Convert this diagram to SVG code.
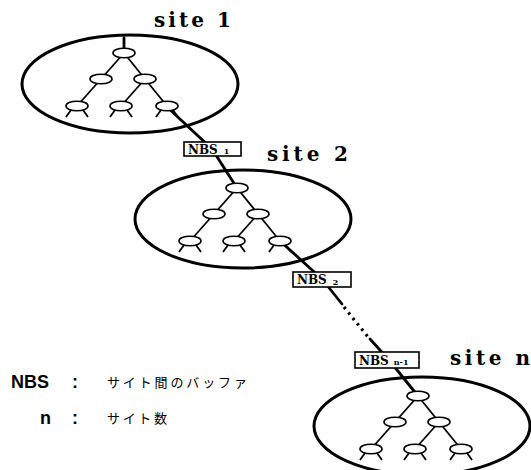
<svg xmlns="http://www.w3.org/2000/svg" xmlns:xlink="http://www.w3.org/1999/xlink" width="531" height="470" viewBox="0 0 531 470">
  <style>
    .site { fill: none; stroke: #000; stroke-width: 3; }
    .edge { stroke: #000; stroke-width: 1.8; fill: none; }
    .node { fill: #fff; stroke: #000; stroke-width: 1.6; }
    .link { stroke: #000; stroke-width: 2.8; fill: none; stroke-linecap: round; }
    .dots { stroke: #000; stroke-width: 3.2; fill: none; stroke-dasharray: 2.5 4.5; }
    .box { fill: #fff; stroke: #000; stroke-width: 1.6; }
    .boxtext { font-family: "DejaVu Serif", "Liberation Serif", serif; font-weight: bold; font-size: 12px; fill: #000; }
    .sub { font-size: 8px; }
    .title { font-family: "DejaVu Serif", "Liberation Serif", serif; font-weight: bold; font-size: 20px; fill: #000; }
    .key { font-family: "Liberation Sans", Arial, sans-serif; font-weight: bold; font-size: 18px; fill: #000; }
    .desc { font-family: "Liberation Sans", "Noto Sans CJK JP", sans-serif; font-size: 13px; fill: #000; }
  </style>
  <defs>
    <!-- binary tree held at each site; origin = root node -->
    <g id="tree">
      <line class="edge" x1="0" y1="0" x2="-23" y2="26"/>
      <line class="edge" x1="0" y1="0" x2="21" y2="26"/>
      <line class="edge" x1="-23" y1="26" x2="-47" y2="53"/>
      <line class="edge" x1="21" y1="26" x2="-3" y2="53"/>
      <line class="edge" x1="21" y1="26" x2="43" y2="53"/>
      <ellipse class="node" cx="0" cy="0" rx="11" ry="4.8"/>
      <ellipse class="node" cx="-23" cy="26" rx="11" ry="4.8"/>
      <ellipse class="node" cx="21" cy="26" rx="11" ry="4.8"/>
      <g id="leaf">
        <line class="edge" x1="-53" y1="57" x2="-58" y2="64"/>
        <line class="edge" x1="-41" y1="57" x2="-36" y2="64"/>
        <ellipse class="node" cx="-47" cy="53" rx="11" ry="4.8"/>
      </g>
      <use xlink:href="#leaf" x="44"/>
      <use xlink:href="#leaf" x="90"/>
    </g>
  </defs>

  <rect width="531" height="470" fill="#fff"/>

  <!-- chain of sites joined through buffers -->
  <g id="connectors">
    <line class="link" x1="124" y1="38" x2="124" y2="50"/>
    <polyline class="link" points="166,106 212,149 237,188"/>
    <line class="link" x1="280" y1="241" x2="322" y2="279"/>
    <line class="link" x1="322" y1="279" x2="342" y2="304"/>
    <line class="dots" x1="344" y1="307" x2="368" y2="337"/>
    <line class="link" x1="370" y1="339" x2="389" y2="360"/>
    <line class="link" x1="389" y1="360" x2="418" y2="396"/>
  </g>

  <g id="site1">
    <ellipse class="site" cx="130" cy="84" rx="108" ry="49"/>
    <use xlink:href="#tree" x="124" y="53"/>
    <text class="title" x="154" y="27" textLength="77" lengthAdjust="spacing">site 1</text>
  </g>

  <g id="site2">
    <ellipse class="site" cx="243" cy="219" rx="108" ry="49"/>
    <use xlink:href="#tree" x="237" y="188"/>
    <text class="title" x="267" y="161" textLength="81" lengthAdjust="spacing">site 2</text>
  </g>

  <g id="siten">
    <ellipse class="site" cx="422" cy="426" rx="108" ry="49"/>
    <use xlink:href="#tree" x="418" y="396"/>
    <text class="title" x="450" y="365" textLength="80" lengthAdjust="spacing">site n</text>
  </g>

  <g id="nbs1">
    <rect class="box" x="184" y="142" width="57" height="14"/>
    <text class="boxtext" x="188" y="153.5">NBS<tspan class="sub" dx="6" dy="0.5">1</tspan></text>
  </g>

  <g id="nbs2">
    <rect class="box" x="293" y="272" width="58" height="15"/>
    <text class="boxtext" x="297" y="284">NBS<tspan class="sub" dx="6" dy="0.5">2</tspan></text>
  </g>

  <g id="nbsn1">
    <rect class="box" x="355" y="352" width="64" height="16"/>
    <text class="boxtext" x="359" y="364.5">NBS<tspan class="sub" dx="5" dy="0.5">n-1</tspan></text>
  </g>

  <g id="legend">
    <text class="key" x="11" y="388">NBS</text>
    <text class="key" x="72" y="388">:</text>
    <text class="desc" x="107" y="387" textLength="140" lengthAdjust="spacing">サイト間のバッファ</text>
    <text class="key" x="40" y="424">n</text>
    <text class="key" x="72" y="424">:</text>
    <text class="desc" x="107" y="423" textLength="60" lengthAdjust="spacing">サイト数</text>
  </g>
</svg>
